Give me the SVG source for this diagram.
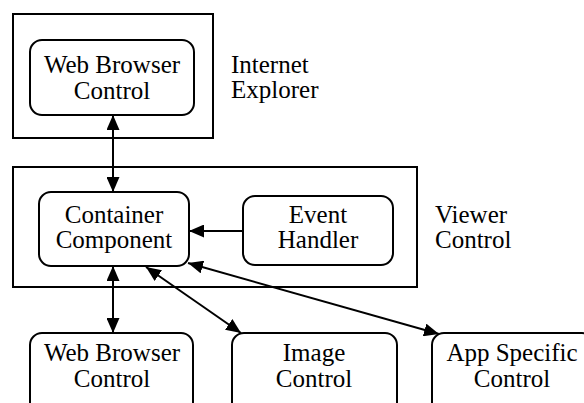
<svg xmlns="http://www.w3.org/2000/svg" width="584" height="403" viewBox="0 0 584 403">
  <style>
    .frame { fill: #fff; stroke: #000; stroke-width: 2; }
    .node { fill: #fff; stroke: #000; stroke-width: 2; }
    .link { fill: none; stroke: #000; stroke-width: 2; }
    text { font-family: 'Liberation Serif', 'DejaVu Serif', 'Times New Roman', Times, serif; font-size: 25px; fill: #000; }
  </style>
  <defs>
    <marker id="head" viewBox="0 0 15 13" refX="15" refY="6.5" markerWidth="15" markerHeight="13" markerUnits="userSpaceOnUse" orient="auto-start-reverse">
      <path d="M0,0 L15,6.5 L0,13 z" fill="#000"/>
    </marker>
  </defs>
  <rect width="584" height="403" fill="#fff"/>

  <!-- Internet Explorer frame -->
  <g id="internet-explorer">
    <rect class="frame" x="13" y="14" width="200" height="124"/>
    <text x="231" y="73">Internet</text>
    <text x="231" y="98">Explorer</text>
  </g>
  <g id="web-browser-ie" text-anchor="middle">
    <rect class="node" x="30" y="40" width="164" height="75" rx="12"/>
    <text x="112" y="73">Web Browser</text>
    <text x="112" y="99">Control</text>
  </g>

  <!-- Viewer Control frame -->
  <g id="viewer-control">
    <rect class="frame" x="13" y="167" width="404" height="120"/>
    <text x="435" y="223">Viewer</text>
    <text x="435" y="248">Control</text>
  </g>
  <g id="container-component" text-anchor="middle">
    <rect class="node" x="39" y="192" width="150" height="74" rx="12"/>
    <text x="114" y="223">Container</text>
    <text x="114" y="248">Component</text>
  </g>
  <g id="event-handler" text-anchor="middle">
    <rect class="node" x="243" y="196" width="150" height="69" rx="12"/>
    <text x="318" y="223">Event</text>
    <text x="318" y="248">Handler</text>
  </g>

  <!-- Hosted controls -->
  <g id="web-browser-control" text-anchor="middle">
    <rect class="node" x="30" y="333" width="163" height="85" rx="12"/>
    <text x="112" y="361">Web Browser</text>
    <text x="112" y="387">Control</text>
  </g>
  <g id="image-control" text-anchor="middle">
    <rect class="node" x="232" y="333" width="165" height="85" rx="12"/>
    <text x="314" y="361">Image</text>
    <text x="314" y="387">Control</text>
  </g>
  <g id="app-specific-control" text-anchor="middle">
    <rect class="node" x="432" y="333" width="162" height="85" rx="12"/>
    <text x="512" y="361">App Specific</text>
    <text x="512" y="387">Control</text>
  </g>

  <!-- Connectors -->
  <g id="connectors">
    <line class="link" x1="113" y1="115" x2="113" y2="192" marker-start="url(#head)" marker-end="url(#head)"/>
    <line class="link" x1="243" y1="231" x2="189" y2="231" marker-end="url(#head)"/>
    <line class="link" x1="113" y1="266" x2="113" y2="333" marker-start="url(#head)" marker-end="url(#head)"/>
    <line class="link" x1="146" y1="267" x2="241" y2="333" marker-start="url(#head)" marker-end="url(#head)"/>
    <line class="link" x1="188" y1="263" x2="439" y2="334" marker-start="url(#head)" marker-end="url(#head)"/>
  </g>
</svg>
